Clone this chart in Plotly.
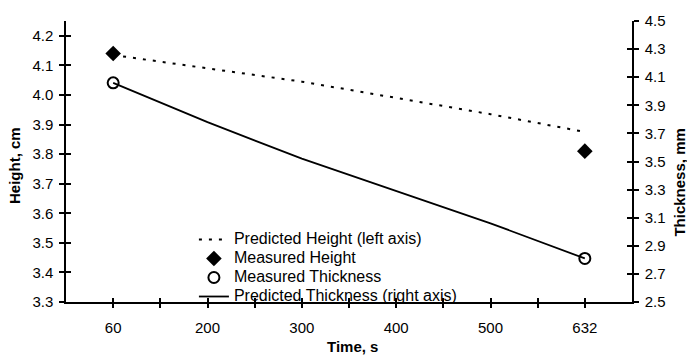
import plotly.graph_objects as go

# ---- data ----
times = ["60", "200", "300", "400", "500", "632"]
pred_height = [4.135, 4.09, 4.045, 3.99, 3.935, 3.875]        # cm, left axis
pred_thickness = [4.06, 3.78, 3.52, 3.29, 3.06, 2.81]          # mm, right axis
meas_times = ["60", "632"]
meas_height = [4.14, 3.81]                                     # cm
meas_thickness = [4.06, 2.81]                                  # mm

series_names = ["Predicted Height (left axis)", "Measured Height",
                "Measured Thickness", "Predicted Thickness (right axis)"]

left_ticks = [3.3, 3.4, 3.5, 3.6, 3.7, 3.8, 3.9, 4.0, 4.1, 4.2]
right_ticks = [2.5, 2.7, 2.9, 3.1, 3.3, 3.5, 3.7, 3.9, 4.1, 4.3, 4.5]
left_range = [3.3, 4.25]
right_range = [2.5, 4.5]

FONT = "Liberation Sans, Arial, sans-serif"
BLACK = "#000000"


def legend_label(s):
    return '<span style="font-size:16px">' + s + "</span>"


n = len(times)
x_tickvals = []
x_ticktext = []
for i, t in enumerate(times):
    x_tickvals.append(i)
    x_ticktext.append(t)
    if i < n - 1:
        x_tickvals.append(i + 0.5)
        x_ticktext.append("")
x_range = [-0.5, n - 0.5]

fig = go.Figure()

fig.add_trace(go.Scatter(
    x=times, y=pred_height, mode="lines", name=legend_label(series_names[0]),
    line=dict(color=BLACK, width=2, dash="3px,7px"), yaxis="y"))
fig.add_trace(go.Scatter(
    x=meas_times, y=meas_height, mode="markers", name=legend_label(series_names[1]),
    marker=dict(symbol="diamond", size=12, color=BLACK), yaxis="y"))
fig.add_trace(go.Scatter(
    x=meas_times, y=meas_thickness, mode="markers", name=legend_label(series_names[2]),
    marker=dict(symbol="circle-open", size=11, color=BLACK, line=dict(width=2, color=BLACK)),
    yaxis="y2"))
fig.add_trace(go.Scatter(
    x=times, y=pred_thickness, mode="lines", name=legend_label(series_names[3]),
    line=dict(color=BLACK, width=1.8), yaxis="y2"))

# invisible helper traces so that the overlay tick axes are drawn
fig.add_trace(go.Scatter(x=[None], y=[None], xaxis="x2", yaxis="y3", showlegend=False,
                         hoverinfo="skip", mode="lines"))
fig.add_trace(go.Scatter(x=[None], y=[None], xaxis="x", yaxis="y4", showlegend=False,
                         hoverinfo="skip", mode="lines"))

tickfont = dict(family=FONT, size=15, color=BLACK)
common = dict(showgrid=False, zeroline=False, tickcolor=BLACK, tickwidth=1.5,
              linecolor=BLACK, linewidth=1.5)

fig.update_layout(
    width=687, height=356,
    margin=dict(l=66, r=55, t=15, b=54),
    paper_bgcolor="white", plot_bgcolor="white",
    font=dict(family=FONT, size=15, color=BLACK),
    xaxis=dict(type="category", categoryorder="array", categoryarray=times,
               range=x_range, tickmode="array", tickvals=x_tickvals, ticktext=x_ticktext,
               ticks="outside", ticklen=4, showline=True, tickfont=tickfont,
               ticklabelstandoff=7, **common),
    xaxis2=dict(type="linear", overlaying="x", anchor="y", range=x_range,
                tickmode="array", tickvals=x_tickvals, ticks="inside", ticklen=4,
                showticklabels=False, showline=False, side="bottom", **common),
    yaxis=dict(range=left_range, tickmode="array", tickvals=left_ticks,
               tickformat=".1f", ticks="outside", ticklen=5, showline=True,
               tickfont=tickfont, ticklabelstandoff=3, **common),
    yaxis2=dict(range=right_range, tickmode="array", tickvals=right_ticks,
                tickformat=".1f", ticks="outside", ticklen=5, showline=True,
                side="right", overlaying="y", anchor="x", tickfont=tickfont,
                ticklabelstandoff=3, **common),
    yaxis3=dict(range=left_range, tickmode="array", tickvals=left_ticks,
                ticks="inside", ticklen=5, showticklabels=False, showline=False,
                overlaying="y", anchor="x2", side="left", **common),
    yaxis4=dict(range=right_range, tickmode="array", tickvals=right_ticks,
                ticks="inside", ticklen=5, showticklabels=False, showline=False,
                overlaying="y", anchor="x", side="right", **common),
    legend=dict(x=0.226, y=0.274, xanchor="left", yanchor="top",
                bgcolor="rgba(0,0,0,0)", font=dict(family=FONT, size=12, color=BLACK),
                traceorder="normal"),
    showlegend=True,
    annotations=[
        dict(text="<b>Height, cm</b>", xref="paper", yref="paper", x=-0.0901, y=0.484,
             xanchor="center", yanchor="middle", textangle=-90, showarrow=False,
             font=dict(family=FONT, size=15, color=BLACK)),
        dict(text="<b>Thickness, mm</b>", xref="paper", yref="paper", x=1.0848, y=0.425,
             xanchor="center", yanchor="middle", textangle=-90, showarrow=False,
             font=dict(family=FONT, size=15, color=BLACK)),
        dict(text="<b>Time, s</b>", xref="paper", yref="paper", x=0.507, y=-0.160,
             xanchor="center", yanchor="middle", showarrow=False,
             font=dict(family=FONT, size=15, color=BLACK)),
    ],
)

fig.write_html("out.html")
